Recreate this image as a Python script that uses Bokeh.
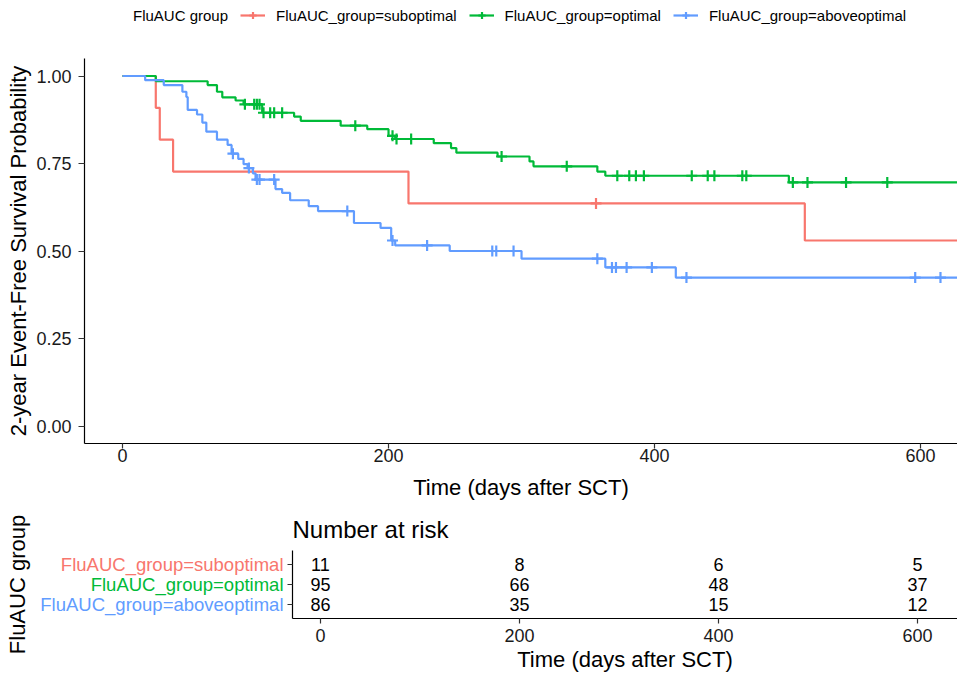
import numpy as np
from bokeh.plotting import figure
from bokeh.models import (Range1d, FixedTicker, NumeralTickFormatter,
                          Legend, LegendItem)
from bokeh.layouts import row, column
from bokeh.embed import file_html
from bokeh.resources import INLINE
from bokeh.core.properties import value

FONT = "Liberation Sans"

# ---------------- data ----------------
groups = ["FluAUC_group=suboptimal", "FluAUC_group=optimal", "FluAUC_group=aboveoptimal"]
colors = ["#F8766D", "#00BA38", "#619CFF"]
legend_title = "FluAUC group"

sub_time = [0, 25, 28, 38, 215, 513, 650]
sub_surv = [1.0, 0.909, 0.818, 0.727, 0.636, 0.530, 0.530]
sub_censor = [356]

opt_time = [0, 25, 64, 71, 75, 85, 91, 105, 129, 134, 164, 184, 200, 205, 234, 247,
            251, 282, 306, 309, 357, 363, 501, 650]
opt_surv = [1.0, 0.985, 0.974, 0.955, 0.939, 0.930, 0.919, 0.895, 0.884, 0.872, 0.858,
            0.848, 0.829, 0.820, 0.808, 0.794, 0.781, 0.770, 0.756, 0.742, 0.727, 0.715,
            0.696, 0.696]
opt_censor = [92, 99, 101, 103, 106, 111, 114, 120, 175, 203, 206, 217, 285, 334, 372,
              381, 386, 392, 428, 440, 445, 466, 469, 504, 515, 544, 575]

abv_time = [0, 17, 31, 45, 48, 49, 56, 60, 63, 71, 79, 82, 87, 91, 94, 98, 100, 115,
            120, 126, 140, 147, 174, 194, 202, 205, 246, 300, 363, 416, 650]
abv_surv = [1.0, 0.988, 0.974, 0.955, 0.940, 0.903, 0.890, 0.867, 0.841, 0.818, 0.803,
            0.778, 0.763, 0.748, 0.737, 0.722, 0.704, 0.677, 0.666, 0.645, 0.628, 0.614,
            0.580, 0.566, 0.530, 0.516, 0.500, 0.478, 0.453, 0.424, 0.424]
abv_censor = [83, 95, 101, 103, 114, 169, 203, 229, 278, 281, 294, 357, 368, 371, 379,
              398, 424, 596, 615]

x_ticks = [0, 200, 400, 600]
y_ticks = [0.0, 0.25, 0.50, 0.75, 1.0]

risk_times = [0, 200, 400, 600]
risk_sub = [11, 8, 6, 5]
risk_opt = [95, 66, 48, 37]
risk_abv = [86, 35, 15, 12]

series = [(sub_time, sub_surv, sub_censor),
          (opt_time, opt_surv, opt_censor),
          (abv_time, abv_surv, abv_censor)]
risks = [risk_sub, risk_opt, risk_abv]
row_pos = list(range(len(groups)))   # table rows, top to bottom

LINE_W = 2.2
CROSS = 11


def censor_points(t, s, cens):
    t_arr = np.asarray(t, dtype=float)
    s_arr = np.asarray(s, dtype=float)
    c_arr = np.asarray(cens, dtype=float)
    idx = np.searchsorted(t_arr, c_arr, side="right") - 1
    return t_arr, s_arr, c_arr, s_arr[idx]


def style_axis(ax, tick_size, label_size):
    ax.axis_line_color = "black"
    ax.axis_line_width = 1.2
    ax.major_tick_line_color = "#333333"
    ax.major_tick_line_width = 1.2
    ax.major_tick_in = 0
    ax.minor_tick_line_color = None
    ax.major_label_text_font = FONT
    ax.major_label_text_font_size = tick_size
    ax.major_label_text_color = "#1a1a1a"
    ax.axis_label_text_font = FONT
    ax.axis_label_text_font_size = label_size
    ax.axis_label_text_font_style = "normal"
    ax.axis_label_text_color = "black"


# ---------------- legend strip (key only; its view shows no data) ----------------
lg = figure(width=957, height=30, output_backend="svg", toolbar_location=None,
            x_range=Range1d(-1000, -999), y_range=Range1d(-1000, -999),
            x_axis_location=None, y_axis_location=None,
            min_border_left=0, min_border_right=0, min_border_top=0,
            min_border_bottom=0, frame_align=False)
lg.outline_line_color = None
lg.grid.visible = False
key_title = lg.line(x=[], y=[], line_alpha=0)
items = [LegendItem(label=legend_title, renderers=[key_title])]
for (t, s, cens), name, col in zip(series, groups, colors):
    t_arr, s_arr, c_arr, c_y = censor_points(t, s, cens)
    kl = lg.step(x=t_arr, y=s_arr, mode="after", line_color=col, line_width=LINE_W)
    ks = lg.scatter(x=c_arr, y=c_y, marker="cross", size=CROSS, line_color=col,
                    line_width=LINE_W)
    items.append(LegendItem(label=name, renderers=[kl, ks]))
legend = Legend(items=items, orientation="horizontal", location=(97, 6))
legend.label_text_font = FONT
legend.label_text_font_size = "15px"
legend.label_text_color = "black"
legend.label_standoff = 11
legend.glyph_width = 25
legend.glyph_height = 18
legend.label_height = 18
legend.spacing = 12
legend.padding = 0
legend.margin = 0
legend.border_line_color = None
legend.background_fill_alpha = 0
lg.add_layout(legend)

# ---------------- main survival plot ----------------
p = figure(width=957, height=472, output_backend="svg", toolbar_location=None,
           x_range=Range1d(-28.6, 627.8), y_range=Range1d(-0.05, 1.05),
           min_border_left=84, min_border_top=28, min_border_bottom=59,
           min_border_right=0, frame_align=False)
p.outline_line_color = None
p.grid.visible = False

for (t, s, cens), col in zip(series, colors):
    t_arr, s_arr, c_arr, c_y = censor_points(t, s, cens)
    p.step(x=t_arr, y=s_arr, mode="after", line_color=col, line_width=LINE_W)
    p.scatter(x=c_arr, y=c_y, marker="cross", size=CROSS,
              line_color=col, line_width=LINE_W)

p.xaxis.ticker = FixedTicker(ticks=x_ticks)
p.yaxis.ticker = FixedTicker(ticks=y_ticks)
p.yaxis.formatter = NumeralTickFormatter(format="0.00")
p.xaxis.axis_label = "Time (days after SCT)"
p.yaxis.axis_label = "2-year Event-Free Survival Probability"
style_axis(p.xaxis[0], "18px", "22px")
style_axis(p.yaxis[0], "18px", "22px")
p.xaxis.major_tick_out = 5
p.yaxis.major_tick_out = 6
p.xaxis.major_label_standoff = 0
p.yaxis.major_label_standoff = 7
p.xaxis.axis_label_standoff = 10
p.yaxis.axis_label_standoff = 2

# ---------------- number at risk table ----------------
risk_y = Range1d(len(groups) - 0.3, -0.7)

# left strip: coloured group names and the table's y title
lf = figure(width=284, height=172, output_backend="svg", toolbar_location=None,
            x_range=Range1d(0, 1), y_range=risk_y,
            min_border_left=29, min_border_top=48, min_border_bottom=56,
            min_border_right=0, frame_align=False)
lf.outline_line_color = None
lf.grid.visible = False
lf.xaxis.visible = False
lf.yaxis.ticker = FixedTicker(ticks=[])
lf.yaxis.axis_line_color = None
lf.yaxis.major_tick_line_color = None
lf.yaxis.minor_tick_line_color = None
lf.yaxis.major_tick_out = 0
lf.yaxis.major_label_standoff = 0
lf.yaxis.axis_label = "FluAUC group"
lf.yaxis.axis_label_standoff = 0
lf.yaxis.axis_label_text_font = FONT
lf.yaxis.axis_label_text_font_size = "22px"
lf.yaxis.axis_label_text_font_style = "normal"
lf.yaxis.axis_label_text_color = "black"
lf.text(x=[1.0] * len(groups), y=row_pos, text=groups, text_color=colors,
        x_offset=-1, text_align="right", text_baseline="middle",
        text_font=value(FONT), text_font_size="18.5px")

r = figure(width=673, height=172, output_backend="svg", toolbar_location=None,
           x_range=Range1d(-28.1, 640.2), y_range=risk_y,
           min_border_left=8, min_border_top=48, min_border_bottom=56,
           min_border_right=0, frame_align=False)
r.outline_line_color = None
r.grid.visible = False
r.title.text = "Number at risk"
r.title.text_font = FONT
r.title.text_font_size = "24px"
r.title.text_font_style = "normal"
r.title.text_color = "black"
r.title.align = "left"
r.title.standoff = 15

for pos, vals in zip(row_pos, risks):
    r.text(x=risk_times, y=[pos] * len(risk_times), text=[str(v) for v in vals],
           text_align="center", text_baseline="middle", text_font_size="18px",
           text_font=value(FONT), text_color="black")

r.xaxis.ticker = FixedTicker(ticks=x_ticks)
r.yaxis.ticker = FixedTicker(ticks=row_pos)
r.xaxis.axis_label = "Time (days after SCT)"
style_axis(r.xaxis[0], "18px", "22px")
style_axis(r.yaxis[0], "18px", "22px")
r.yaxis.major_label_overrides = {pos: "" for pos in row_pos}
r.xaxis.major_tick_out = 5
r.yaxis.major_tick_out = 5
r.yaxis.major_label_standoff = 0
r.xaxis.major_label_standoff = 5
r.xaxis.axis_label_standoff = 2

layout = column(lg, p, row(lf, r, spacing=0), spacing=0)
open("out.html", "w").write(file_html(layout, INLINE))
